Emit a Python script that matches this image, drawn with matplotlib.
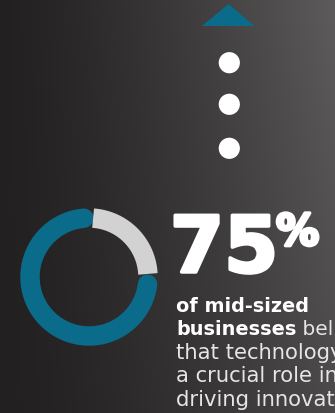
import numpy as np
import matplotlib
matplotlib.use("Agg")
import matplotlib.pyplot as plt
import matplotlib.patheffects as pe
from matplotlib.patches import Polygon, Circle

# the one number of this graphic
share_pct = 75
big_label = "75"
pct_sign = "%"
ring_colors = ["#0b6b8a", "#d2d2d2"]   # share, rest

# caption lines (bold part, regular part)
caption = [
    ("of mid-sized", ""),
    ("businesses", " believe"),
    ("", "that technology plays"),
    ("", "a crucial role in"),
    ("", "driving innovation"),
]

W, H = 335, 413
fig = plt.figure(figsize=(W / 100, H / 100), dpi=100)
ax = fig.add_axes([0, 0, 1, 1])
ax.set_xlim(0, W)
ax.set_ylim(H, 0)
ax.axis("off")

# dark background, lighter towards the top right
xx, yy = np.meshgrid(np.linspace(0, 1, W), np.linspace(0, 1, H))
shade = 0.13 + 0.23 * xx ** 1.3 - 0.07 * yy * xx
bg = np.dstack([shade + 0.005, shade - 0.003, shade - 0.003])
ax.imshow(np.clip(bg, 0, 1), extent=[0, W, H, 0], aspect="auto", zorder=0)

# arrow head + dots on top
ax.add_patch(Polygon([[202, 26], [228.5, 4], [254.5, 26]], closed=True,
                     color=ring_colors[0], lw=0, zorder=2))
for cy in [62.7, 104.3, 148.3]:
    ax.add_patch(Circle((229.3, cy), 10.6, color="white", lw=0, zorder=2))

# donut: share goes counter-clockwise from the top, rest fills 0..90 deg
cx, cy, r = 89, 277, 59
span = share_pct / 100 * 360
cap = 4  # round cap in degrees
seg_share = (90 + 1 + cap, 90 + span - 3 - cap)
seg_rest = (90 + span - 360 + 3, 90 - 4)

def arc(a0, a1, color, capstyle):
    t = np.radians(np.linspace(a0, a1, 200))
    ax.plot(cx + r * np.cos(t), cy - r * np.sin(t), color=color, lw=14,
            solid_capstyle=capstyle, zorder=3)

arc(*seg_share, ring_colors[0], "round")
arc(*seg_rest, ring_colors[1], "butt")

# big number
thick = [pe.withStroke(linewidth=2.5, foreground="white")]
ax.text(170, 272, big_label, fontsize=56, fontweight="bold", color="white",
        ha="left", va="baseline", path_effects=thick, zorder=4)
ax.text(276, 245, pct_sign, fontsize=31, fontweight="bold", color="white",
        ha="left", va="baseline", path_effects=thick, zorder=4)

# caption
y0, step = 311.7, 23.5
for i, (b, reg) in enumerate(caption):
    y = y0 + i * step
    if b:
        t = ax.text(176, y, b, fontsize=13.9, fontweight="bold", color="white",
                    ha="left", va="baseline", zorder=4, clip_on=True)
        if reg:
            ax.annotate(reg, xy=(1, 0), xycoords=t, fontsize=14.5,
                        color="#e6e6e6", ha="left", va="bottom", zorder=4,
                        annotation_clip=False)
    else:
        ax.text(176, y, reg, fontsize=15.2, color="#e6e6e6",
                ha="left", va="baseline", zorder=4, clip_on=True)

fig.savefig("out.png", dpi=100)
